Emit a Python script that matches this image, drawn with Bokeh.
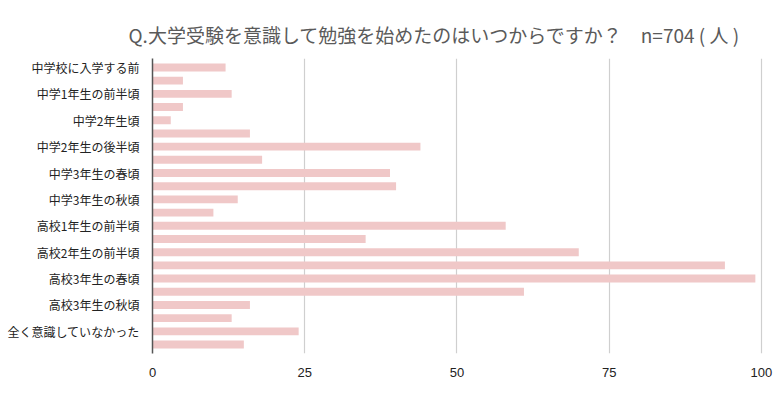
from bokeh.plotting import figure
from bokeh.models import Range1d, FixedTicker, Title
from bokeh.embed import file_html
from bokeh.resources import INLINE

categories = [
    "中学校に入学する前", "中学1年生の春頃", "中学1年生の前半頃", "中学1年生の後半頃",
    "中学2年生頃", "中学2年生の前半頃", "中学2年生の後半頃", "中学3年生になる前",
    "中学3年生の春頃", "中学3年生の夏頃", "中学3年生の秋頃", "中学3年生の冬頃",
    "高校1年生の前半頃", "高校1年生の後半頃", "高校2年生の前半頃", "高校2年生の後半頃",
    "高校3年生の春頃", "高校3年生の夏頃", "高校3年生の秋頃", "高校3年生の冬頃",
    "全く意識していなかった", "わからない",
]
values = [12, 5, 13, 5, 3, 16, 44, 18, 39, 40, 14, 10,
          58, 35, 70, 94, 99, 61, 16, 13, 24, 15]
shown_labels = [
    "中学校に入学する前", "中学1年生の前半頃", "中学2年生頃", "中学2年生の後半頃",
    "中学3年生の春頃", "中学3年生の秋頃", "高校1年生の前半頃", "高校2年生の前半頃",
    "高校3年生の春頃", "高校3年生の秋頃", "全く意識していなかった",
]
x_ticks = [0, 25, 50, 75, 100]
title_text = "Q.大学受験を意識して勉強を始めたのはいつからですか？"
n_text = "n=704 ( 人 )"

positions = list(range(1, len(categories) + 1))
label_pos = [categories.index(s) + 1 for s in shown_labels]

p = figure(width=780, height=394, output_backend="svg", toolbar_location=None,
           x_range=Range1d(0, 100.5), y_range=Range1d(22.68, 0.32),
           min_border_left=152, min_border_right=16, min_border_top=58,
           min_border_bottom=41)
p.outline_line_color = None
p.background_fill_color = None
p.border_fill_color = None

p.title = Title(text=title_text + "\u3000" + n_text, text_font="Noto Sans CJK JP",
                text_font_size="19px", text_color="#5a5a5a",
                text_font_style="normal", align="left", offset=-24,
                standoff=22)

p.hbar(y=positions, right=values, left=0, height=0.6,
       fill_color="#f0c8c8", line_color=None)

p.xaxis.ticker = FixedTicker(ticks=x_ticks)
p.xaxis.axis_line_color = None
p.xaxis.major_tick_line_color = None
p.xaxis.minor_tick_line_color = None
p.xaxis.major_label_text_font = "Liberation Sans"
p.xaxis.major_label_text_font_size = "13px"
p.xaxis.major_label_text_color = "#222222"
p.xaxis.major_label_standoff = 8

p.yaxis.ticker = FixedTicker(ticks=label_pos)
p.yaxis.major_label_overrides = {pos: lab for pos, lab in zip(label_pos, shown_labels)}
p.yaxis.axis_line_color = "#555555"
p.yaxis.axis_line_width = 1.5
p.yaxis.major_tick_line_color = None
p.yaxis.minor_tick_line_color = None
p.yaxis.major_label_text_font = "Noto Sans CJK JP"
p.yaxis.major_label_text_font_size = "12px"
p.yaxis.major_label_text_color = "#222222"
p.yaxis.major_label_standoff = 7

p.xgrid.ticker = FixedTicker(ticks=[25, 50, 75, 100])
p.xgrid.grid_line_color = "#cfcfcf"
p.xgrid.grid_line_width = 1.2
p.ygrid.grid_line_color = None

open("out.html", "w").write(file_html(p, INLINE))
